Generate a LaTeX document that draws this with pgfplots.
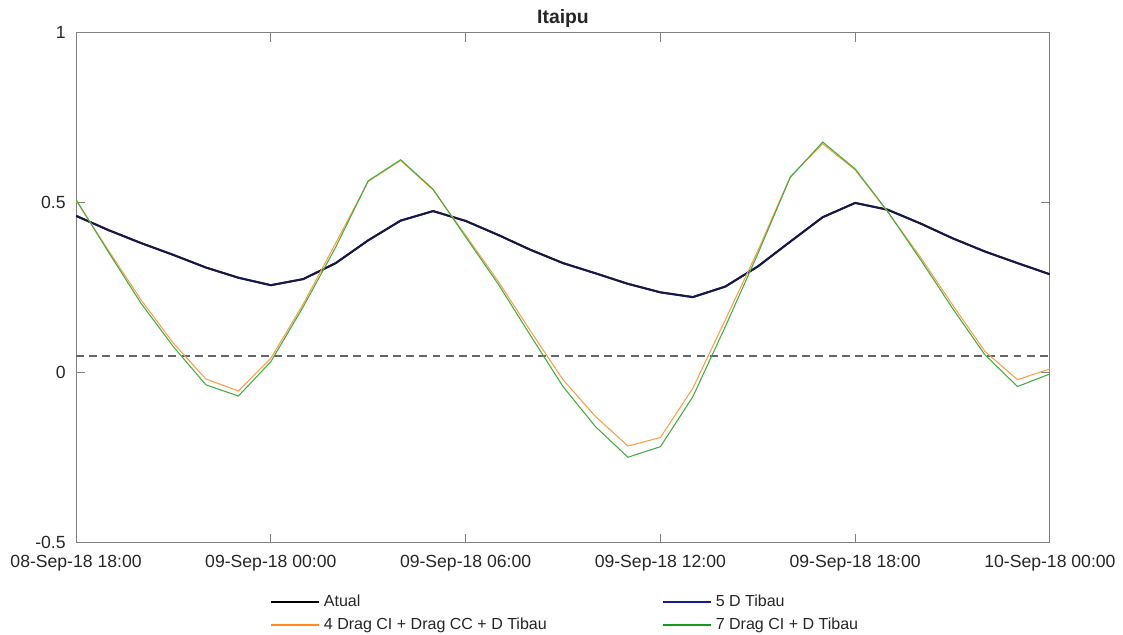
\documentclass[border=0pt]{standalone}
\usepackage{fontspec}
\setmainfont{Liberation Sans}
\usepackage{pgfplots}
\pgfplotsset{compat=1.18}
\definecolor{cnavy}{rgb}{0.11,0.11,0.36}
\definecolor{cblue}{rgb}{0.1,0.1,0.62}
\definecolor{corange}{rgb}{1,0.55,0.1}
\definecolor{corangel}{rgb}{0.99,0.62,0.27}
\definecolor{cgreen}{rgb}{0.1,0.6,0.1}
\definecolor{cgreenl}{rgb}{0.25,0.68,0.25}
\definecolor{ctxt}{rgb}{0.15,0.15,0.15}
\begin{document}
\begin{tikzpicture}
\begin{axis}[
  name=ax,
  scale only axis,
  width=553.2pt, height=289.7pt,
  xmin=0, xmax=30, ymin=-0.5, ymax=1,
  xtick={0,6,...,30},
  xticklabels={08-Sep-18 18:00,09-Sep-18 00:00,09-Sep-18 06:00,09-Sep-18 12:00,09-Sep-18 18:00,10-Sep-18 00:00},
  ytick={-0.5,0,0.5,1},
  yticklabels={-0.5,0,0.5,1},
  tick align=inside,
  major tick length=5pt,
  axis line style={black!50, line width=0.6pt},
  tick style={black!50, line width=0.6pt},
  ticklabel style={font=\fontsize{10}{12}\selectfont, text=ctxt},
  x tick label style={yshift=-3.3pt},
  y tick label style={xshift=-2.4pt},
  title={\bfseries Itaipu},
  title style={font=\fontsize{11}{13}\selectfont, text=ctxt, yshift=-6.5pt},
  legend columns=2,
  legend cell align=left,
  legend style={draw=none, fill=none, at={(0.199,-0.094)}, anchor=north west,
    font=\fontsize{9.1}{10}\selectfont, text=ctxt,
    /tikz/every even column/.append style={column sep=63.5pt},
    row sep=1.2pt, inner sep=0pt},
  legend image code/.code={\draw[#1] (0pt,0pt) -- (27.3pt,0pt);},
]
\addlegendimage{black, line width=1.2pt}
\addlegendentry{Atual}
\addlegendimage{cblue, line width=1.2pt}
\addlegendentry{5 D Tibau}
\addlegendimage{corange, line width=1.2pt}
\addlegendentry{4 Drag CI + Drag CC + D Tibau}
\addlegendimage{cgreen, line width=1.2pt}
\addlegendentry{7 Drag CI + D Tibau}

\addplot[forget plot, black!60, dashed, line width=0.7pt, dash pattern=on 4.5pt off 3pt] coordinates {(0,0.05) (30,0.05)};

% Atual
\addplot[forget plot, black, line width=1.1pt] coordinates {
(0,0.462) (1,0.420) (2,0.382) (3,0.347) (4,0.310) (5,0.280) (6,0.258) (7,0.276) (8,0.323) (9,0.390) (10,0.448)
(11,0.476) (12,0.447) (13,0.406) (14,0.362) (15,0.323) (16,0.293) (17,0.262) (18,0.237) (19,0.223) (20,0.254)
(21,0.313) (22,0.386) (23,0.458) (24,0.500) (25,0.480) (26,0.440) (27,0.396) (28,0.357) (29,0.323) (30,0.290)};
% 5 D Tibau
\addplot[forget plot, cnavy, line width=1.1pt, opacity=0.85] coordinates {
(0,0.462) (1,0.420) (2,0.382) (3,0.347) (4,0.310) (5,0.280) (6,0.258) (7,0.276) (8,0.323) (9,0.390) (10,0.448)
(11,0.476) (12,0.447) (13,0.406) (14,0.362) (15,0.323) (16,0.293) (17,0.262) (18,0.237) (19,0.223) (20,0.254)
(21,0.313) (22,0.386) (23,0.458) (24,0.500) (25,0.480) (26,0.440) (27,0.396) (28,0.357) (29,0.323) (30,0.290)};
% 4 Drag CI + Drag CC + D Tibau
\addplot[forget plot, corangel, line width=0.6pt] coordinates {
(0,0.507) (1,0.360) (2,0.215) (3,0.087) (4,-0.018) (5,-0.053) (6,0.043) (7,0.203) (8,0.382) (9,0.563) (10,0.625)
(11,0.538) (12,0.405) (13,0.270) (14,0.123) (15,-0.020) (16,-0.128) (17,-0.215) (18,-0.190) (19,-0.045) (20,0.156)
(21,0.359) (22,0.577) (23,0.674) (24,0.597) (25,0.474) (26,0.342) (27,0.200) (28,0.063) (29,-0.020) (30,0.012)};
% 7 Drag CI + D Tibau
\addplot[forget plot, cgreenl, line width=0.6pt] coordinates {
(0,0.510) (1,0.355) (2,0.205) (3,0.077) (4,-0.035) (5,-0.068) (6,0.033) (7,0.195) (8,0.370) (9,0.565) (10,0.627)
(11,0.540) (12,0.400) (13,0.262) (14,0.110) (15,-0.040) (16,-0.158) (17,-0.248) (18,-0.217) (19,-0.070) (20,0.136)
(21,0.350) (22,0.575) (23,0.679) (24,0.600) (25,0.475) (26,0.335) (27,0.190) (28,0.053) (29,-0.040) (30,-0.003)};
\end{axis}
\pgfresetboundingbox
\path[use as bounding box] ([shift={(-43.2pt,-52.3pt)}]ax.south west) rectangle ([shift={(41.5pt,18.7pt)}]ax.north east);
\end{tikzpicture}
\end{document}
